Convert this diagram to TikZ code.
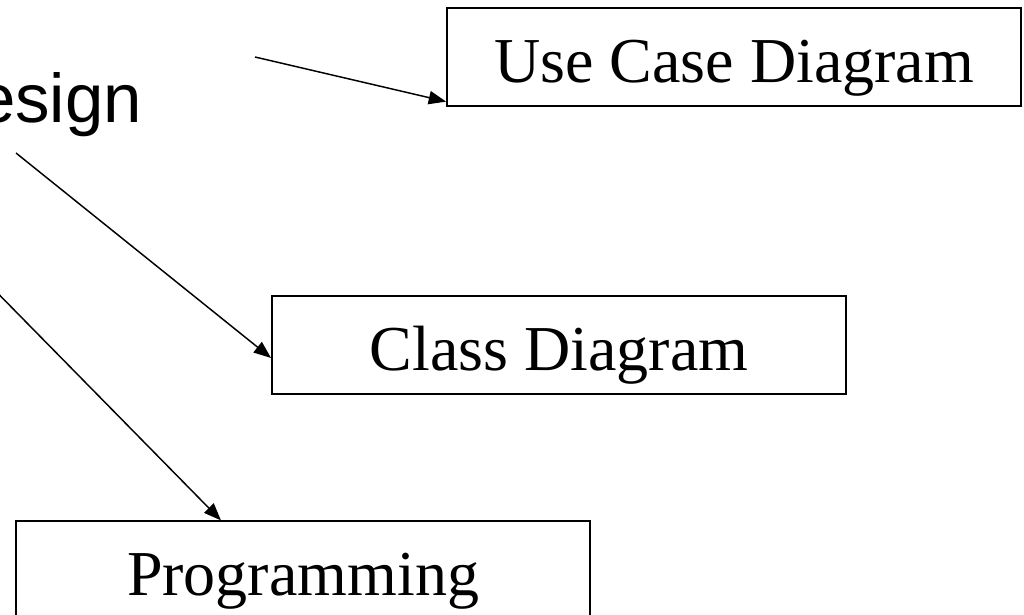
\documentclass[tikz,border=0pt]{standalone}
\usepackage{fontspec}
\setmainfont{Liberation Serif}
\newfontfamily\designfont{Liberation Sans}
\usetikzlibrary{arrows.meta}
\tikzset{
  diagbox/.style={draw=black, line width=1.4pt, inner sep=0pt,
    minimum width=430.5pt, minimum height=73pt,
    font=\fontsize{48}{56}\selectfont, text height=48pt, text depth=10.5pt},
  conn/.style={draw=black, line width=1.1pt, -{Triangle[length=13pt,width=10pt]}}
}
\begin{document}
\begin{tikzpicture}[x=0.75pt, y=-0.75pt]
\useasboundingbox (0,0) rectangle (1024,614);
\clip (0,0) rectangle (1024,614);
\fill[white] (0,0) rectangle (1024,614);

\node[anchor=base west, inner sep=0pt, font=\designfont\fontsize{51.75}{60}\selectfont] (design) at (-73,122) {Design};

\node[diagbox] (uc) at (734,57) {Use Case Diagram};
\node[diagbox] (cd) at (559,345) {Class Diagram};
\node[diagbox] (pg) at (303,570) {Programming};

\coordinate (s1) at (255,57);
\coordinate (s2) at (16,153);
\coordinate (s3) at (-30,265);

\draw[conn] (s1) -- ([shift={(0,-5)}]uc.south west);
\draw[conn] (s2) -- ([shift={(0,13)}]cd.west);
\draw[conn] (s3) -- ([shift={(-82,0)}]pg.north);
\end{tikzpicture}
\end{document}
